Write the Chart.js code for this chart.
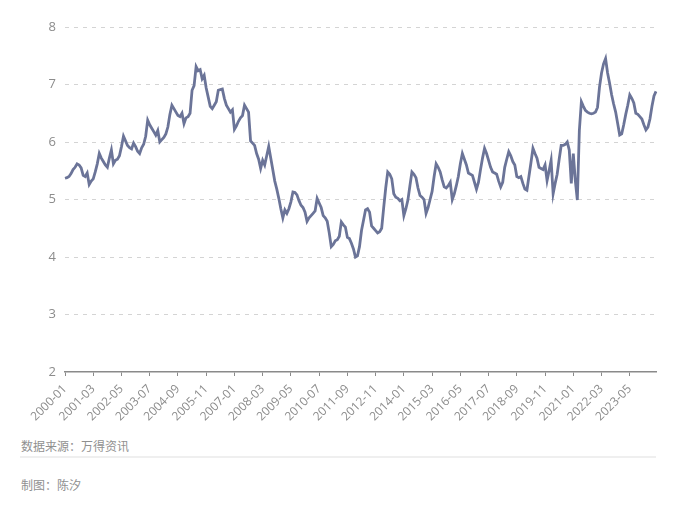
<!DOCTYPE html>
<html>
<head>
<meta charset="utf-8">
<script src="https://cdn.jsdelivr.net/npm/chart.js@4"></script>
<style>
  html, body { margin: 0; padding: 0; background: #fff; width: 700px; height: 510px; overflow: hidden; }
  #wrap { position: absolute; left: 0; top: 0; width: 700px; height: 430px; }
  .note { position: absolute; left: 21px; font-family: "Noto Sans CJK SC", sans-serif; font-size: 12px; color: #909090; line-height: 14px; }
  #rule { position: absolute; left: 20px; top: 456px; width: 636px; height: 2px; background: #efefef; }
</style>
</head>
<body>
<div id="wrap"><canvas id="c" width="700" height="430"></canvas></div>
<div class="note" style="top:439px;">数据来源：万得资讯</div>
<div id="rule"></div>
<div class="note" style="top:478px;">制图：陈汐</div>
<script>
// monthly values, 2000-01 .. 2024-06
const startYear = 2000;
const values = [
  5.37, 5.38, 5.40, 5.45, 5.52, 5.56, 5.62, 5.60, 5.55, 5.42, 5.40, 5.46,
  5.26, 5.32, 5.36, 5.48, 5.62, 5.80, 5.72, 5.66, 5.60, 5.56, 5.72, 5.86,
  5.62, 5.68, 5.70, 5.76, 5.92, 6.10, 6.02, 5.94, 5.90, 5.88, 5.98, 5.92,
  5.84, 5.80, 5.90, 5.96, 6.10, 6.38, 6.30, 6.24, 6.18, 6.12, 6.20, 6.00,
  6.04, 6.08, 6.14, 6.26, 6.48, 6.64, 6.58, 6.52, 6.46, 6.44, 6.50, 6.32,
  6.42, 6.44, 6.50, 6.90, 6.98, 7.31, 7.24, 7.26, 7.10, 7.16, 6.94, 6.78,
  6.62, 6.58, 6.64, 6.70, 6.90, 6.91, 6.92, 6.76, 6.64, 6.58, 6.52, 6.56,
  6.22, 6.28, 6.36, 6.42, 6.46, 6.64, 6.58, 6.52, 6.02, 5.98, 5.94, 5.80,
  5.70, 5.54, 5.68, 5.60, 5.76, 5.92, 5.72, 5.52, 5.32, 5.18, 5.02, 4.84,
  4.68, 4.82, 4.76, 4.84, 4.96, 5.13, 5.12, 5.08, 4.98, 4.90, 4.86, 4.78,
  4.62, 4.68, 4.72, 4.76, 4.80, 5.02, 4.94, 4.86, 4.72, 4.68, 4.62, 4.42,
  4.18, 4.22, 4.28, 4.30, 4.36, 4.61, 4.56, 4.52, 4.34, 4.32, 4.24, 4.14,
  4.00, 4.02, 4.18, 4.46, 4.64, 4.82, 4.84, 4.78, 4.54, 4.50, 4.46, 4.42,
  4.44, 4.50, 4.86, 5.20, 5.48, 5.44, 5.36, 5.10, 5.04, 5.02, 4.98, 5.00,
  4.72, 4.84, 4.99, 5.24, 5.48, 5.44, 5.38, 5.20, 5.07, 5.04, 5.00, 4.76,
  4.86, 5.00, 5.14, 5.40, 5.62, 5.56, 5.48, 5.34, 5.22, 5.20, 5.24, 5.30,
  5.00, 5.10, 5.24, 5.40, 5.62, 5.80, 5.70, 5.60, 5.46, 5.44, 5.42, 5.30,
  5.18, 5.30, 5.52, 5.72, 5.89, 5.80, 5.68, 5.56, 5.48, 5.46, 5.44, 5.32,
  5.22, 5.30, 5.56, 5.70, 5.83, 5.76, 5.66, 5.60, 5.40, 5.38, 5.40, 5.28,
  5.18, 5.16, 5.40, 5.64, 5.89, 5.80, 5.72, 5.56, 5.54, 5.52, 5.60, 5.33,
  5.50, 5.68, 5.10, 5.28, 5.44, 5.70, 5.94, 5.94, 5.96, 6.00, 5.86, 5.28,
  5.80, 5.33, 4.99, 6.20, 6.70, 6.62, 6.55, 6.52, 6.50, 6.49, 6.50, 6.52,
  6.60, 6.96, 7.20, 7.36, 7.45, 7.20, 7.02, 6.82, 6.66, 6.52, 6.32, 6.12,
  6.14, 6.30, 6.48, 6.64, 6.82, 6.76, 6.68, 6.50, 6.48, 6.44, 6.40, 6.30,
  6.21, 6.26, 6.40, 6.62, 6.80, 6.88
];
const labelEvery = 14;
const yTicks = [2, 3, 4, 5, 6, 7, 8];

const labels = values.map((_, i) => {
  const y = startYear + Math.floor(i / 12);
  const m = (i % 12) + 1;
  return y + '-' + (m < 10 ? '0' + m : m);
});

new Chart(document.getElementById('c'), {
  type: 'line',
  data: {
    labels: labels,
    datasets: [{
      data: values,
      borderColor: '#6b7498',
      borderWidth: 2.8,
      pointRadius: 0,
      tension: 0,
      fill: false
    }]
  },
  options: {
    responsive: false,
    animation: false,
    layout: { padding: { left: 0, right: 44, top: 27, bottom: 0 } },
    plugins: { legend: { display: false }, tooltip: { enabled: false } },
    scales: {
      x: {
        offset: false,
        afterFit: s => { s.height = 58; },
        grid: {
          drawOnChartArea: false,
          drawTicks: true,
          tickLength: 4,
          color: ctx => (ctx.index % labelEvery === 0 ? '#8a8a8a' : 'rgba(0,0,0,0)')
        },
        border: { display: true, color: '#8a8a8a', width: 1.5 },
        ticks: {
          autoSkip: false,
          minRotation: 45,
          maxRotation: 45,
          padding: 6,
          color: '#8c8c8c',
          font: { family: '"Open Sans", "Noto Sans", sans-serif', size: 12 },
          callback: function (v, i) { return i % labelEvery === 0 ? labels[i] : ''; }
        }
      },
      y: {
        min: 2,
        max: 8,
        afterFit: s => { s.width = 65; },
        afterBuildTicks: s => { s.ticks = yTicks.map(v => ({ value: v })); },
        grid: {
          drawTicks: false,
          color: ctx => (ctx.tick && ctx.tick.value === 2 ? 'rgba(0,0,0,0)' : '#d4d4d4'),
          lineWidth: 1
        },
        border: { display: false, dash: [4, 5] },
        ticks: {
          padding: 9,
          color: '#8c8c8c',
          font: { family: '"Open Sans", "Noto Sans", sans-serif', size: 13 }
        }
      }
    }
  }
});
</script>
</body>
</html>
